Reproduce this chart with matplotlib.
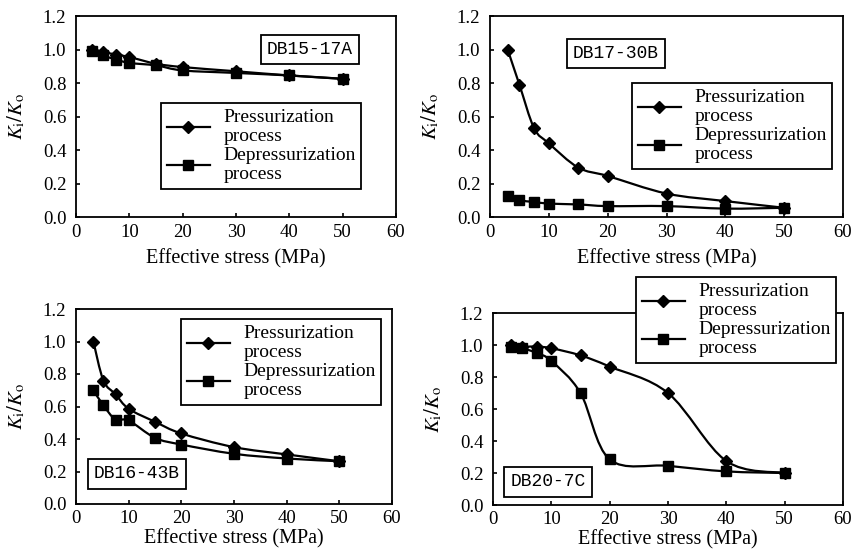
import matplotlib
matplotlib.use("Agg")
import matplotlib.pyplot as plt
from matplotlib.path import Path
from matplotlib.patches import PathPatch
from matplotlib.lines import Line2D
import numpy as np

plt.rcParams['font.family'] = ['Liberation Serif', 'DejaVu Serif']
plt.rcParams['mathtext.fontset'] = 'stix'

stress = [3, 5, 7.5, 10, 15, 20, 30, 40, 50]
stress_43b = [3.3, 5.2, 7.5, 10, 15, 20, 30, 40, 50]

press_17a = [1.0, 0.985, 0.97, 0.955, 0.915, 0.895, 0.87, 0.845, 0.825]
depress_17a = [0.99, 0.965, 0.94, 0.92, 0.905, 0.875, 0.86, 0.845, 0.825]

press_30b = [1.0, 0.79, 0.53, 0.44, 0.295, 0.245, 0.14, 0.095, 0.055]
depress_30b = [0.125, 0.10, 0.09, 0.08, 0.075, 0.065, 0.065, 0.05, 0.055]

press_43b = [1.0, 0.76, 0.675, 0.586, 0.506, 0.434, 0.35, 0.305, 0.263]
depress_43b = [0.70, 0.607, 0.52, 0.514, 0.407, 0.366, 0.309, 0.28, 0.263]

press_7c = [1.0, 0.99, 0.99, 0.98, 0.935, 0.865, 0.70, 0.275, 0.20]
depress_7c = [0.99, 0.98, 0.95, 0.90, 0.70, 0.285, 0.245, 0.21, 0.20]

xticks = [0, 10, 20, 30, 40, 50, 60]
yticks = [0.0, 0.2, 0.4, 0.6, 0.8, 1.0, 1.2]

W, H = 855, 552


def smooth_path(x, y):
    """Bezier path through the points, like a spreadsheet smoothed line."""
    pts = np.column_stack([x, y]).astype(float)
    n = len(pts)
    verts = [pts[0]]
    codes = [Path.MOVETO]
    for i in range(n - 1):
        p0 = pts[i - 1] if i > 0 else pts[i]
        p1 = pts[i]
        p2 = pts[i + 1]
        p3 = pts[i + 2] if i + 2 < n else pts[i + 1]
        c1 = p1 + (p2 - p0) / 6.0
        c2 = p2 - (p3 - p1) / 6.0
        verts += [c1, c2, p2]
        codes += [Path.CURVE4] * 3
    return Path(verts, codes)


def panel(fig, rect, x, p, d, name, name_xy, leg_xy, xpad, tpad):
    l, t, r, b = rect
    ax = fig.add_axes([l / W, 1 - b / H, (r - l) / W, (b - t) / H])
    for ys, mk, ms in [(p, 'D', 6), (d, 's', 7.5)]:
        ax.add_patch(PathPatch(smooth_path(x, ys), fill=False, lw=1.6,
                               edgecolor='black', zorder=2))
        ax.plot(x, ys, ls='none', marker=mk, ms=ms, color='black', zorder=3)
    ax.set_xlim(0, 60)
    ax.set_ylim(0, 1.2)
    ax.set_xticks(xticks)
    ax.set_yticks(yticks)
    ax.set_xticklabels([str(v) for v in xticks], fontsize=13.5)
    ax.set_yticklabels(['%.1f' % v for v in yticks], fontsize=13.5)
    ax.tick_params(direction='in', length=3, width=1.2, pad=7)
    ax.tick_params(axis='x', pad=tpad)
    for s in ax.spines.values():
        s.set_linewidth(1.3)
    ax.set_xlabel('Effective stress (MPa)', fontsize=14.5, labelpad=xpad)
    ax.set_ylabel(r'$K_{\rm i}/K_{\rm o}$', fontsize=15, labelpad=11)

    fig.text(name_xy[0] / W, 1 - name_xy[1] / H, name, family='Liberation Mono',
             fontsize=13, ha='center', va='center',
             bbox=dict(boxstyle='square,pad=0.35', fc='white', ec='black', lw=1.3))

    handles = [Line2D([], [], color='black', lw=1.6, marker='D', ms=6),
               Line2D([], [], color='black', lw=1.6, marker='s', ms=7.5)]
    leg = ax.legend(handles, ['Pressurization\nprocess', 'Depressurization\nprocess'],
                    loc='upper left', bbox_to_anchor=(leg_xy[0] / W, 1 - leg_xy[1] / H),
                    bbox_transform=fig.transFigure, fontsize=14, frameon=True,
                    fancybox=False, edgecolor='black', framealpha=1,
                    handlelength=2.2, handletextpad=0.7, borderpad=0.3,
                    labelspacing=0.12, borderaxespad=0)
    leg.get_frame().set_linewidth(1.3)
    for txt in leg.get_texts():
        txt.set_linespacing(1.15)
    return ax


fig = plt.figure(figsize=(W / 100, H / 100), dpi=100)

panel(fig, (76, 16, 396, 217), stress, press_17a, depress_17a,
      'DB15-17A', (310, 49.5), (161, 103), 5.5, 5)
panel(fig, (490, 16, 843, 217), stress, press_30b, depress_30b,
      'DB17-30B', (616, 53.5), (632, 83), 5.5, 5)
panel(fig, (76, 309, 392, 504), stress_43b, press_43b, depress_43b,
      'DB16-43B', (137, 474), (181, 319), 1.5, 4.5)
panel(fig, (493, 313, 843, 505), stress, press_7c, depress_7c,
      'DB20-7C', (548, 482), (636, 277), 1.5, 4.5)

fig.savefig('out.png', dpi=100)
